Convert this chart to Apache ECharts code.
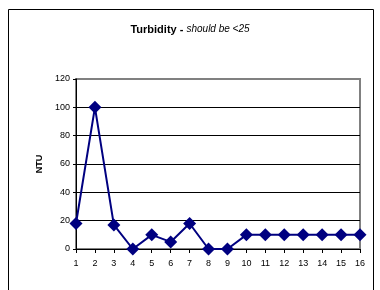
<!DOCTYPE html>
<html>
<head>
<meta charset="utf-8">
<script src="https://cdn.jsdelivr.net/npm/echarts@6/dist/echarts.min.js"></script>
<style>
  html, body { margin: 0; padding: 0; background: #fff; }
  #chart { width: 380px; height: 290px; }
</style>
</head>
<body>
<div id="chart"></div>
<script>
var categories = ['1','2','3','4','5','6','7','8','9','10','11','12','13','14','15','16'];
var turbidity = [18, 100, 17, 0, 10, 5, 18, 0, 0, 10, 10, 10, 10, 10, 10, 10];

var myChart = echarts.init(document.getElementById('chart'));
var option = {
    backgroundColor: '#FFFFFF',
    animation: false,
    title: {
        text: '{b|Turbidity - }{i|should be <25}',
        left: 'center',
        top: 19,
        textStyle: {
            rich: {
                b: { fontFamily: 'Liberation Sans', fontSize: 11, fontWeight: 'bold', color: '#000' },
                i: { fontFamily: 'Liberation Sans', fontSize: 10, fontStyle: 'italic', fontWeight: 'normal', color: '#000' }
            }
        }
    },
    graphic: [
        {
            type: 'rect',
            shape: { x: 8.5, y: 9.5, width: 365, height: 300 },
            style: { fill: 'none', stroke: '#000', lineWidth: 1 },
            silent: true
        }
    ],
    grid: {
        left: 76,
        right: 20,
        top: 79,
        bottom: 41,
        show: true,
        borderColor: '#808080',
        borderWidth: 2
    },
    xAxis: {
        type: 'category',
        boundaryGap: false,
        data: categories,
        axisLine: { lineStyle: { color: '#000', width: 1 } },
        axisTick: { show: true, alignWithLabel: true, length: 4, lineStyle: { color: '#000' } },
        axisLabel: { color: '#000', fontFamily: 'Liberation Sans', fontSize: 9, margin: 10 },
        splitLine: { show: false }
    },
    yAxis: {
        type: 'value',
        min: 0,
        max: 120,
        interval: 20,
        name: 'NTU',
        nameLocation: 'middle',
        nameGap: 30,
        nameTextStyle: { fontFamily: 'Liberation Sans', fontSize: 9, fontWeight: 'bold', color: '#000' },
        axisLine: { show: true, lineStyle: { color: '#000', width: 1 } },
        axisTick: { show: true, length: 3, lineStyle: { color: '#000' } },
        axisLabel: { color: '#000', fontFamily: 'Liberation Sans', fontSize: 9, margin: 6 },
        splitLine: {
            show: true,
            lineStyle: {
                color: ['#000', '#000', '#000', '#000', '#000', '#000', '#808080'],
                width: 1
            }
        }
    },
    series: [
        {
            name: 'Turbidity',
            type: 'line',
            data: turbidity,
            symbol: 'diamond',
            symbolSize: 13,
            itemStyle: { color: '#000080' },
            lineStyle: { color: '#000080', width: 2 }
        }
    ]
};
myChart.setOption(option);
</script>
</body>
</html>
